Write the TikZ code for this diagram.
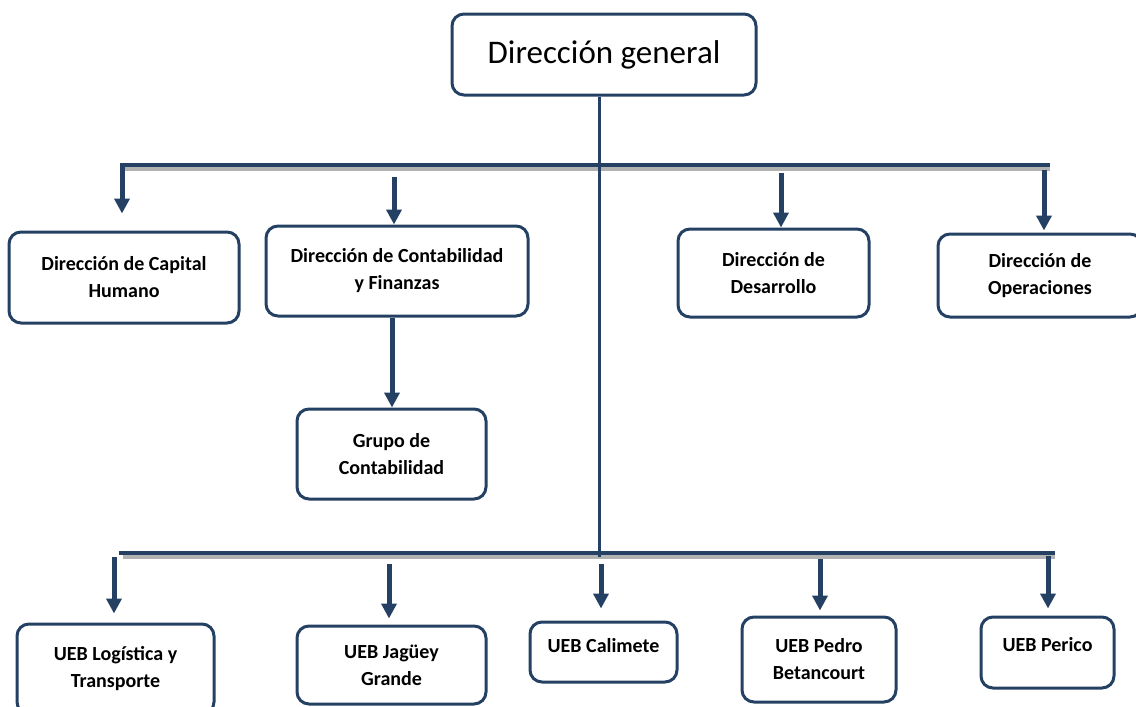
\documentclass[tikz,border=0pt]{standalone}
\usepackage{fontspec}
\setmainfont{Carlito}
\usepackage{xcolor}
\usepackage{tikz}
\usetikzlibrary{arrows.meta, positioning, calc}

\definecolor{azulosc}{RGB}{36,64,98}

\begin{document}
\begin{tikzpicture}[
    x=1pt, y=-1pt,
    caja/.style={rectangle, rounded corners=12pt, draw=azulosc, line width=3pt, align=center, text=black, font=\fontsize{20}{27}\selectfont\bfseries},
    flecha/.style={-{Triangle[width=15pt,length=15pt]}, line width=5pt, azulosc},
    barra/.style={line width=4pt, azulosc},
    sombra/.style={line width=4pt, black!30}
]
\useasboundingbox (0,0) rectangle (1136,707);

% nivel superior
\node[caja, minimum width=304pt, minimum height=81pt, font=\fontsize{33}{36}\selectfont] (dgeneral) at (604,54.5) {Dirección general};

% direcciones
\node[caja, minimum width=230pt, minimum height=91pt] (capital) at (124,277.5) {Dirección de Capital\\Humano};
\node[caja, minimum width=262pt, minimum height=90pt] (contab) at (397,271) {Dirección de Contabilidad\\y Finanzas};
\node[caja, minimum width=191pt, minimum height=88pt] (desarrollo) at (773.5,273) {Dirección de\\Desarrollo};
\node[caja, minimum width=204pt, minimum height=83pt] (operaciones) at (1040,275.5) {Dirección de\\Operaciones};
\node[caja, minimum width=189pt, minimum height=90pt] (grupo) at (391.5,454) {Grupo de\\Contabilidad};

% UEB
\node[caja, minimum width=197pt, minimum height=90pt] (logistica) at (115.5,669) {UEB Logística y\\Transporte};
\node[caja, minimum width=189pt, minimum height=78pt] (jaguey) at (391.5,665) {UEB Jagüey\\Grande};
\node[caja, minimum width=147pt, minimum height=60pt, text depth=13pt] (calimete) at (603.5,652) {UEB Calimete};
\node[caja, minimum width=154pt, minimum height=85pt] (pedro) at (819,659.5) {UEB Pedro\\Betancourt};
\node[caja, minimum width=133pt, minimum height=71pt, text depth=17pt] (perico) at (1047.5,652.5) {UEB Perico};

% barras horizontales
\coordinate (b1i) at (121,165);
\coordinate (b1d) at (1050,165);
\coordinate (b2i) at (119,553);
\coordinate (b2d) at (1055,553);
\draw[sombra] ($(b1i)+(4,4)$) -- ($(b1d)+(0,4)$);
\draw[sombra] ($(b2i)+(4,4)$) -- ($(b2d)+(0,4)$);
\draw[barra] (b1i) -- (b1d);
\draw[barra] (b2i) -- (b2d);

% linea central
\draw[line width=3pt, azulosc] (dgeneral.south -| 599,0) -- (599,557);

% flechas
\coordinate (f1) at (122,163);
\coordinate (f2) at (394,177);
\coordinate (f3) at (781,173);
\coordinate (f4) at (1044,170);
\coordinate (f5) at (392,318);
\coordinate (f6) at (114,557);
\coordinate (f7) at (389,564);
\coordinate (f8) at (601,564);
\coordinate (f9) at (820,559);
\coordinate (f10) at (1048,556);
\draw[flecha, shorten >=17pt] (f1) -- (f1 |- capital.north);
\draw[flecha] (f2) -- (f2 |- contab.north);
\draw[flecha] (f3) -- (f3 |- desarrollo.north);
\draw[flecha, shorten >=2pt] (f4) -- (f4 |- operaciones.north);
\draw[flecha] (f5) -- (f5 |- grupo.north);
\draw[flecha, shorten >=9pt] (f6) -- (f6 |- logistica.north);
\draw[flecha, shorten >=6pt] (f7) -- (f7 |- jaguey.north);
\draw[flecha, shorten >=12pt] (f8) -- (f8 |- calimete.north);
\draw[flecha, shorten >=5pt] (f9) -- (f9 |- pedro.north);
\draw[flecha, shorten >=7pt] (f10) -- (f10 |- perico.north);

\end{tikzpicture}
\end{document}
